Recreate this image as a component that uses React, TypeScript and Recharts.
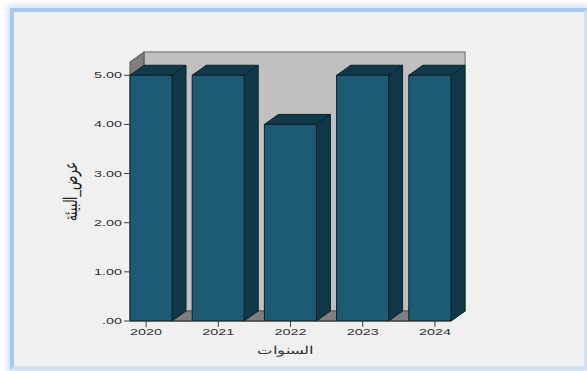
import React from 'react';
import { BarChart, Bar, XAxis, YAxis, ReferenceArea } from 'recharts';

const YEARS = ['2020', '2021', '2022', '2023', '2024'];
const VALUES = [5, 5, 4, 5, 5];
const Y_TICKS = [0, 1, 2, 3, 4, 5];
const Y_MAX = 5.27;
const X_TITLE = 'السنوات';
const Y_TITLE = 'عرض_البيئة';

const data = YEARS.map((year, i) => ({ year, value: VALUES[i] }));

const W = 587;
const H = 371;
const PLOT_LEFT = 130;
const PLOT_RIGHT = 451;
const DX = 14;
const DY = 10;
const TEXT = '#333333';
const FONT = 'Arial, "Liberation Sans", sans-serif';

const Bar3D = (props: any) => {
  const { x, y, width, height } = props;
  if (height == null || width == null) return null;
  const x0 = Math.max(x, PLOT_LEFT);
  const x1 = Math.min(x + width, PLOT_RIGHT);
  const yb = y + height;
  return (
    <g stroke="#08222c" strokeWidth={1} strokeLinejoin="round">
      <polygon points={`${x1},${y} ${x1 + DX},${y - DY} ${x1 + DX},${yb - DY} ${x1},${yb}`} fill="#103846" />
      <polygon points={`${x0},${y} ${x0 + DX},${y - DY} ${x1 + DX},${y - DY} ${x1},${y}`} fill="#12394a" />
      <rect x={x0} y={y} width={x1 - x0} height={height} fill="#1b5c74" />
    </g>
  );
};

const Walls = (props: any) => {
  const { y, height } = props;
  const x = PLOT_LEFT;
  const width = PLOT_RIGHT - PLOT_LEFT;
  const yb = y + height;
  return (
    <g>
      <rect x={x + DX} y={y - DY} width={width} height={height} fill="#c0c0c0" stroke="#8a8a8a" strokeWidth={1.5} />
      <polygon
        points={`${x},${y} ${x + DX},${y - DY} ${x + DX},${yb - DY} ${x},${yb}`}
        fill="#7f7f7f"
        stroke="#555"
        strokeWidth={1}
      />
      <polygon
        points={`${x},${yb} ${x + DX},${yb - DY} ${x + width + DX},${yb - DY} ${x + width},${yb}`}
        fill="#7f7f7f"
        stroke="#555"
        strokeWidth={1}
      />
    </g>
  );
};

const XTick = (props: any) => {
  const { x, y, payload } = props;
  return (
    <text
      transform={`translate(${x},${y + 6}) scale(1.6,1)`}
      textAnchor="middle"
      fontSize={9}
      fill={TEXT}
      fontFamily={FONT}
    >
      {payload.value}
    </text>
  );
};

const YTick = (props: any) => {
  const { x, y, payload } = props;
  const v = Number(payload.value);
  const label = v === 0 ? '.00' : v.toFixed(2);
  return (
    <text
      transform={`translate(${x},${y + 3}) scale(1.6,1)`}
      textAnchor="end"
      fontSize={9}
      fill={TEXT}
      fontFamily={FONT}
    >
      {label}
    </text>
  );
};

const XLabel = () => {
  const cx = (PLOT_LEFT + PLOT_RIGHT) / 2 - 5;
  return (
    <text
      transform={`translate(${cx},${354}) scale(1.5,1)`}
      textAnchor="middle"
      fontSize={11}
      fill={TEXT}
      fontFamily={FONT}
    >
      {X_TITLE}
    </text>
  );
};

const YLabel = (props: any) => {
  const vb = props.viewBox || {};
  const cy = vb.y + vb.height / 2;
  return (
    <text
      transform={`translate(${77},${cy}) scale(1.6,1) rotate(-90)`}
      textAnchor="middle"
      fontSize={12}
      fill="#222222"
      fontFamily={FONT}
    >
      {Y_TITLE}
    </text>
  );
};

export default function App() {
  return (
    <div style={{ position: 'absolute', left: 0, top: 0, width: W, height: H, background: '#ffffff', overflow: 'hidden' }}>
      <div
        style={{
          position: 'absolute',
          left: 10,
          top: 8,
          width: 578,
          height: 362,
          boxSizing: 'border-box',
          borderStyle: 'solid',
          borderWidth: 4,
          borderColor: '#a6c8f2 #d2e2f5 #d2e2f5 #a6c8f2',
          boxShadow: '0 0 6px 3px #d3e4fa',
          background: '#f0f0f0',
        }}
      />
      <div style={{ position: 'absolute', left: 0, top: 0 }}>
        <BarChart
          width={W}
          height={H}
          data={data}
          margin={{ top: 62, right: W - PLOT_RIGHT, bottom: 10, left: PLOT_LEFT - 60 }}
          barSize={52}
        >
          <ReferenceArea y1={0} y2={Y_MAX} shape={(p: any) => <Walls {...p} />} />
          <XAxis
            dataKey="year"
            height={40}
            padding={{ left: -20, right: -20 }}
            tick={<XTick />}
            tickSize={6}
            tickLine={{ stroke: '#404040' }}
            axisLine={{ stroke: '#303030' }}
            interval={0}
            label={<XLabel />}
          />
          <YAxis
            width={60}
            domain={[0, Y_MAX]}
            ticks={Y_TICKS}
            allowDataOverflow
            tick={<YTick />}
            tickSize={6}
            tickLine={{ stroke: '#404040' }}
            axisLine={false}
            label={<YLabel />}
          />
          <Bar dataKey="value" isAnimationActive={false} shape={(p: any) => <Bar3D {...p} />} />
        </BarChart>
      </div>
    </div>
  );
}
